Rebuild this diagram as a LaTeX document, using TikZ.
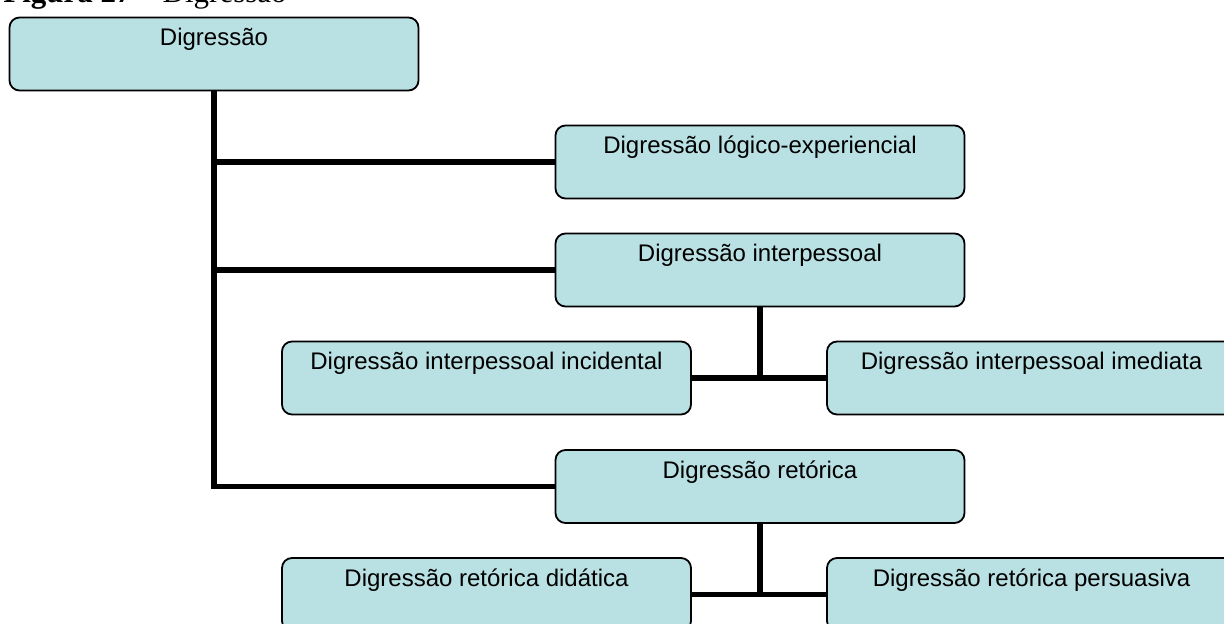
\documentclass[tikz,border=0pt]{standalone}
\usepackage{fontspec}
\setmainfont{Liberation Sans}
\newfontfamily\titlefont{Liberation Serif}
\usepackage{xcolor}
\definecolor{boxfill}{RGB}{185,224,227}

\tikzset{
  dbox/.style={draw=black, line width=0.9pt, fill=boxfill, rounded corners=5pt,
    minimum width=204.5pt, inner xsep=2pt, inner ysep=0pt,
    text height=14pt, text depth=22.5pt, font=\fontsize{12}{14}\selectfont},
  link/.style={line width=2.8pt, black}
}

\begin{document}
\begin{tikzpicture}[x=0.5pt,y=0.5pt,yscale=-1,xscale=1]
\clip (0,0) rectangle (1224,624);

% Text Node
\node (title) [anchor=base west, inner sep=0pt, font=\titlefont\fontsize{15.5}{18}\selectfont] at (3,3) {\textbf{Figura 27} – Digressão};

%Shape: Rounded Rect
\node (dig) [dbox] at (214,54) {Digressão};
%Shape: Rounded Rect
\node (logi) [dbox] at (760,162) {Digressão lógico-experiencial};
%Shape: Rounded Rect
\node (inter) [dbox] at (760,270) {Digressão interpessoal};
%Shape: Rounded Rect
\node (inc) [dbox] at (486.5,378) {Digressão interpessoal incidental};
%Shape: Rounded Rect
\node (ime) [dbox] at (1031.5,378) {Digressão interpessoal imediata};
%Shape: Rounded Rect
\node (ret) [dbox] at (760,486.5) {Digressão retórica};
%Shape: Rounded Rect
\node (did) [dbox] at (486.5,594.5) {Digressão retórica didática};
%Shape: Rounded Rect
\node (per) [dbox] at (1031.5,594.5) {Digressão retórica persuasiva};

%Straight Lines
\draw [link] (dig.south) -- (dig.south |- ret.west) -- (ret.west);
%Straight Lines
\draw [link] (dig.south |- logi.west) -- (logi.west);
%Straight Lines
\draw [link] (dig.south |- inter.west) -- (inter.west);
%Straight Lines
\draw [link] (inter.south) -- (inter.south |- inc.east);
%Straight Lines
\draw [link] (inc.east) -- (ime.west);
%Straight Lines
\draw [link] (ret.south) -- (ret.south |- did.east);
%Straight Lines
\draw [link] (did.east) -- (per.west);

\end{tikzpicture}
\end{document}
